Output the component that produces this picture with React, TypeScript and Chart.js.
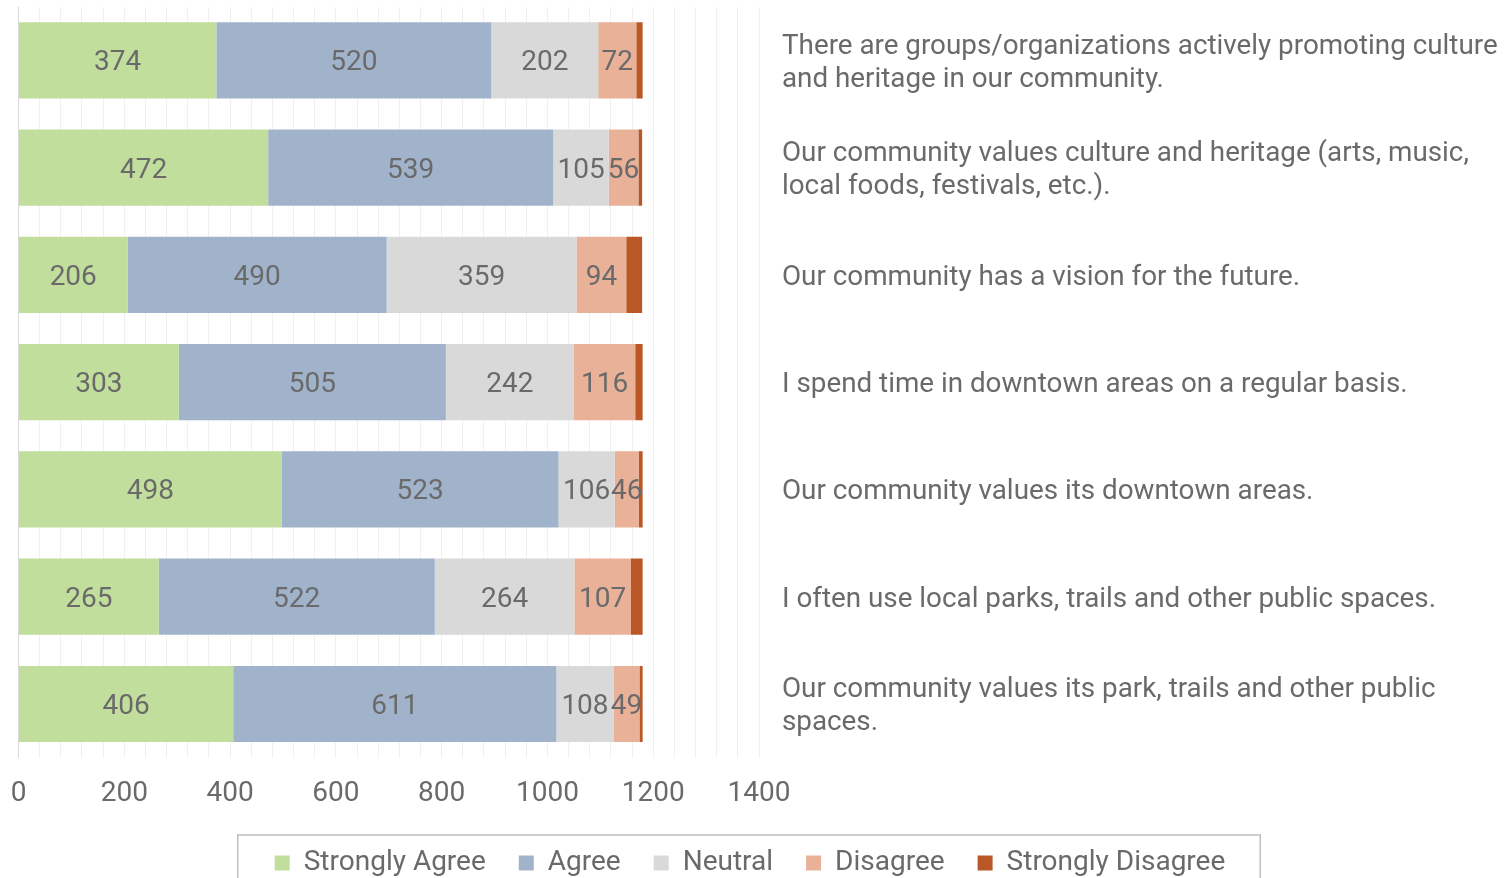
import React, { useEffect, useRef } from 'react';
import { Chart, registerables } from 'chart.js';

Chart.register(...registerables);

const categories: string[][] = [
  ['There are groups/organizations actively promoting culture', 'and heritage in our community.'],
  ['Our community values culture and heritage (arts, music,', 'local foods, festivals, etc.).'],
  ['Our community has a vision for the future.'],
  ['I spend time in downtown areas on a regular basis.'],
  ['Our community values its downtown areas.'],
  ['I often use local parks, trails and other public spaces.'],
  ['Our community values its park, trails and other public', 'spaces.'],
];

const strongAgree = [374, 472, 206, 303, 498, 265, 406];
const agree = [520, 539, 490, 505, 523, 522, 611];
const neutral = [202, 105, 359, 242, 106, 264, 108];
const disagree = [72, 56, 94, 116, 46, 107, 49];
const strongDisagree = [12, 7, 30, 14, 7, 22, 6];

const seriesNames = ['Strongly Agree', 'Agree', 'Neutral', 'Disagree', 'Strongly Disagree'];
const seriesColors = ['#C2DE9D', '#A0B3CB', '#D9D9D9', '#E8B198', '#BA5727'];
const labeledSeries = [true, true, true, true, false];
const xTickLabels = [0, 200, 400, 600, 800, 1000, 1200, 1400];

const FONT = 'Roboto';
const TEXT_COLOR = '#6a6a6a';

const valueLabels = {
  id: 'valueLabels',
  afterDatasetsDraw(chart: any) {
    const ctx = chart.ctx;
    ctx.save();
    ctx.font = `28px ${FONT}`;
    ctx.fillStyle = TEXT_COLOR;
    ctx.textAlign = 'center';
    ctx.textBaseline = 'middle';
    chart.data.datasets.forEach((ds: any, i: number) => {
      if (!labeledSeries[i]) return;
      const meta = chart.getDatasetMeta(i);
      meta.data.forEach((el: any, j: number) => {
        const p = el.getProps(['x', 'y', 'base'], true);
        ctx.fillText(String(ds.data[j]), (p.x + p.base) / 2, p.y + 3);
      });
    });
    ctx.restore();
  },
};

const legendShift = {
  id: 'legendShift',
  afterLayout(chart: any) {
    const lg = chart.legend;
    if (!lg) return;
    lg.left = 0;
    lg.right = 1500;
    lg.width = 1500;
  },
};

const legendBox = {
  id: 'legendBox',
  afterDraw(chart: any) {
    const lg = chart.legend;
    const hb = lg && lg.legendHitBoxes;
    if (!hb || !hb.length) return;
    const first = hb[0];
    const last = hb[hb.length - 1];
    const left = first.left - 37;
    const right = last.left + last.width + 35;
    const cy = first.top + first.height / 2;
    const top = cy - 28;
    const ctx = chart.ctx;
    ctx.save();
    ctx.strokeStyle = '#BFBFBF';
    ctx.lineWidth = 1.5;
    ctx.strokeRect(left, top, right - left, chart.height - top + 10);
    ctx.restore();
  },
};

export default function App() {
  const ref = useRef<HTMLCanvasElement | null>(null);

  useEffect(() => {
    if (!ref.current) return;
    const series = [strongAgree, agree, neutral, disagree, strongDisagree];
    const chart = new Chart(ref.current, {
      type: 'bar',
      data: {
        labels: categories,
        datasets: series.map((d, i) => ({
          label: seriesNames[i],
          data: d,
          backgroundColor: seriesColors[i],
          borderWidth: 0,
          barPercentage: 0.71,
          categoryPercentage: 1,
        })),
      },
      options: {
        indexAxis: 'y',
        animation: false,
        responsive: false,
        devicePixelRatio: 1,
        layout: { padding: { left: 18.5, right: 0, top: 6.7, bottom: 0 } },
        plugins: {
          tooltip: { enabled: false },
          legend: {
            position: 'bottom',
            labels: {
              boxWidth: 15,
              boxHeight: 15,
              padding: 33,
              color: TEXT_COLOR,
              font: { family: FONT, size: 28 },
            },
          },
        },
        scales: {
          x: {
            stacked: true,
            min: 0,
            max: 1400,
            border: { display: false },
            grid: {
              drawTicks: false,
              color: (c: any) => (c.tick && c.tick.value === 0 ? '#D9D9D9' : '#F0F0F0'),
            },
            ticks: {
              stepSize: 40,
              autoSkip: false,
              maxRotation: 0,
              padding: 20,
              color: TEXT_COLOR,
              font: { family: FONT, size: 28 },
              callback: (v: any) => (xTickLabels.includes(Number(v)) ? String(v) : ''),
            },
            afterFit: (s: any) => {
              s.paddingLeft = 0;
              s.paddingRight = 0;
              s.height = 58.4;
            },
          },
          y: {
            stacked: true,
            position: 'right',
            border: { display: false },
            grid: { display: false, drawTicks: false },
            ticks: {
              padding: 23,
              labelOffset: 3,
              color: TEXT_COLOR,
              font: { family: FONT, size: 27.8, lineHeight: 1.19 },
            },
            afterFit: (s: any) => {
              s.width = 1511 - 759;
              s.paddingTop = 0;
              s.paddingBottom = 0;
            },
          },
        },
      },
      plugins: [legendShift, valueLabels, legendBox],
    } as any);
    return () => chart.destroy();
  }, []);

  return (
    <div style={{ position: 'fixed', left: 0, top: 0, width: 1511, height: 887, background: '#fff' }}>
      <canvas ref={ref} width={1511} height={887} style={{ display: 'block' }} />
    </div>
  );
}
